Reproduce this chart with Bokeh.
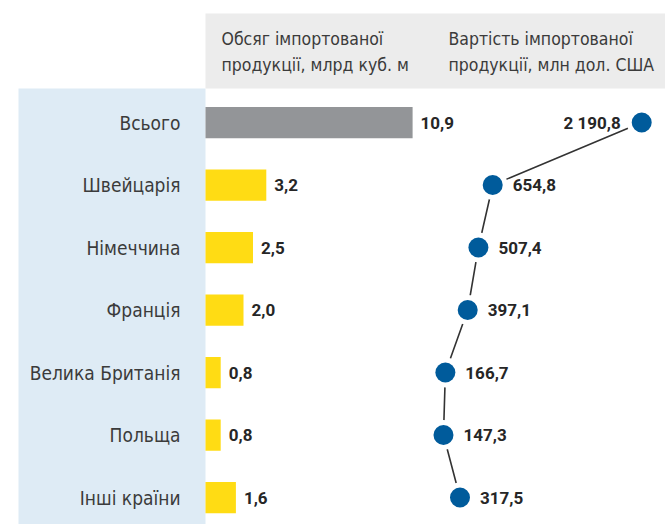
from bokeh.plotting import figure
from bokeh.models import Range1d, BoxAnnotation, ColumnDataSource
from bokeh.core.properties import value
from bokeh.embed import file_html
from bokeh.resources import INLINE

# ---- data ----
categories = ["Всього", "Швейцарія", "Німеччина", "Франція",
              "Велика Британія", "Польща", "Інші країни"]
volume_bcm = [10.9, 3.2, 2.5, 2.0, 0.8, 0.8, 1.6]
value_musd = [2190.8, 654.8, 507.4, 397.1, 166.7, 147.3, 317.5]
header_left = ["Обсяг імпортованої", "продукції, млрд куб. м"]
header_right = ["Вартість імпортованої", "продукції, млн дол. США"]


def fmt(v):
    return f"{v:,.1f}".replace(",", " ").replace(".", ",")


# ---- layout constants ----
W, H = 665, 524
BAR_ORIGIN, BAR_PX = 205, 19.0       # screen px of bar zero, px per unit
DOT_ORIGIN, DOT_PX = 428.7, 0.097    # screen px of value zero, px per unit
ROW_PX, TOP_PAD, BOT_PAD = 62.5, 122, 27

n = len(categories)
y_end = n - 1 + TOP_PAD / ROW_PX


def ypx(px):
    return y_end - px / ROW_PX


def xpx(px):
    return (px - BAR_ORIGIN) / BAR_PX


LABEL_FONT = "DejaVu Sans Condensed"
NUM_FONT = "Roboto"
TEXT_COLOR = "#3b3b3b"
NUM_COLOR = "#262626"

src = ColumnDataSource(dict(
    cat=categories,
    y=[n - 1 - i for i in range(n)],
    vol=volume_bcm,
    usd=value_musd,
    vol_lab=[fmt(v) for v in volume_bcm],
    usd_lab=[fmt(v) for v in value_musd],
    color=["#939598"] + ["#ffdc14"] * (n - 1),
    lab_align=["right"] + ["left"] * (n - 1),
    lab_off=[-21] + [20] * (n - 1),
))

p = figure(width=W, height=H, output_backend="svg", toolbar_location=None,
           x_range=Range1d(-BAR_ORIGIN / BAR_PX, (W - BAR_ORIGIN) / BAR_PX),
           y_range=Range1d(-BOT_PAD / ROW_PX, y_end),
           x_axis_type=None, y_axis_type=None, min_border=0)
p.extra_x_ranges = {"usd": Range1d(-DOT_ORIGIN / DOT_PX, (W - DOT_ORIGIN) / DOT_PX)}
p.grid.visible = False
p.outline_line_color = None
p.background_fill_color = "white"
p.border_fill_color = "white"

# background panels
p.add_layout(BoxAnnotation(left=xpx(18), right=0, top=ypx(88),
                           fill_color="#deebf5", fill_alpha=1,
                           line_color=None, level="underlay"))
p.add_layout(BoxAnnotation(left=0, top=ypx(13), bottom=ypx(88),
                           fill_color="#ececec", fill_alpha=1,
                           line_color=None, level="underlay"))

# headers
p.text(x=[xpx(221)] * 2, y=[ypx(38), ypx(64)], text=header_left,
       text_font=value(LABEL_FONT), text_font_size="17.5px",
       text_color=TEXT_COLOR, text_baseline="middle", text_align="left")
p.text(x=[xpx(448)] * 2, y=[ypx(38), ypx(64)], text=header_right,
       text_font=value(LABEL_FONT), text_font_size="17.5px",
       text_color=TEXT_COLOR, text_baseline="middle", text_align="left")

# bars
p.hbar(y="y", left=0, right="vol", height=0.5, fill_color="color",
       line_color=None, source=src)
p.text(x=0, y="y", text="cat", x_offset=-25, source=src,
       text_font=value(LABEL_FONT), text_font_size="19px",
       text_color=TEXT_COLOR, text_baseline="middle", text_align="right")
p.text(x="vol", y="y", text="vol_lab", x_offset=8, source=src,
       text_font=value(NUM_FONT), text_font_size="17px",
       text_font_style="bold", text_color=NUM_COLOR,
       text_baseline="middle", text_align="left")

# value line with dots
p.line(x="usd", y="y", x_range_name="usd", source=src,
       line_color="#333333", line_width=1.6)
p.scatter(x="usd", y="y", x_range_name="usd", source=src, size=30,
          fill_color="white", line_color=None)
p.scatter(x="usd", y="y", x_range_name="usd", source=src, size=20,
          fill_color="#005b9b", line_color=None)
p.text(x="usd", y="y", text="usd_lab", x_range_name="usd", source=src,
       x_offset="lab_off", text_align="lab_align",
       text_font=value(NUM_FONT), text_font_size="17px",
       text_font_style="bold", text_color=NUM_COLOR,
       text_baseline="middle")

open("out.html", "w").write(file_html(p, INLINE))
